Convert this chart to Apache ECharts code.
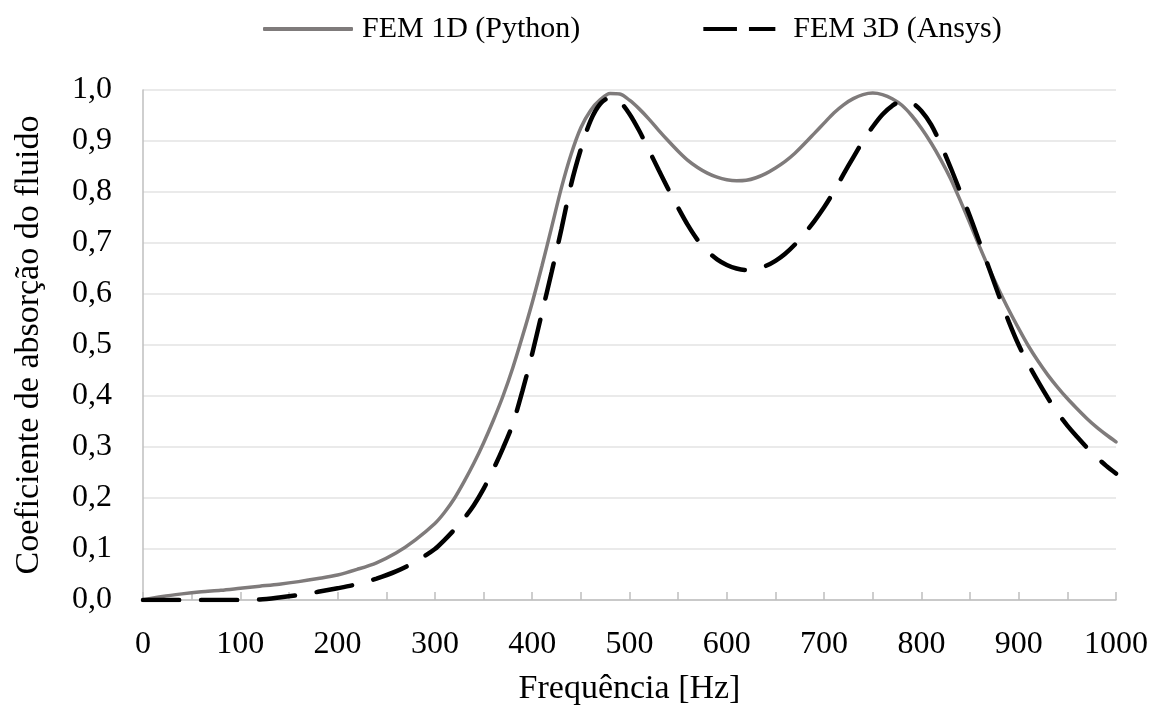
<!DOCTYPE html>
<html>
<head>
<meta charset="utf-8">
<script src="https://cdn.jsdelivr.net/npm/echarts@6/dist/echarts.min.js"></script>
<style>
  html, body { margin: 0; padding: 0; background: #ffffff; }
  #chart { width: 1157px; height: 711px; }
</style>
</head>
<body>
<div id="chart"></div>
<script>
// Frequency samples [Hz]
const freq = [0, 20, 40, 60, 80, 100, 120, 140, 160, 180, 200, 220, 240, 260, 280,
  300, 310, 320, 330, 340, 350, 360, 370, 380, 390, 400, 410, 420, 430, 440, 450, 460, 470, 480, 490,
  500, 510, 520, 530, 540, 550, 560, 570, 580, 590, 600, 610, 620, 630, 640, 650, 660, 670, 680, 690,
  700, 710, 720, 730, 740, 750, 760, 770, 780, 790, 800, 810, 820, 830, 840, 850, 860, 870, 880, 890,
  900, 910, 920, 930, 940, 950, 960, 970, 980, 990, 1000];

// Absorption coefficient, 1D finite-element model (Python)
const fem1d = [0.000, 0.007, 0.012, 0.016, 0.019, 0.023, 0.027, 0.031, 0.036, 0.042, 0.049, 0.060, 0.073, 0.092, 0.118,
  0.150, 0.172, 0.199, 0.232, 0.268, 0.308, 0.352, 0.400, 0.455, 0.517, 0.583, 0.655, 0.731, 0.808, 0.874, 0.926, 0.960, 0.981, 0.993, 0.992,
  0.980, 0.963, 0.943, 0.921, 0.900, 0.880, 0.862, 0.848, 0.837, 0.829, 0.824, 0.822, 0.823, 0.828, 0.836, 0.847, 0.860, 0.876, 0.895, 0.915,
  0.935, 0.955, 0.971, 0.983, 0.991, 0.994, 0.991, 0.983, 0.970, 0.950, 0.925, 0.896, 0.863, 0.826, 0.783, 0.738, 0.692, 0.648, 0.607, 0.568,
  0.532, 0.498, 0.468, 0.441, 0.417, 0.395, 0.375, 0.356, 0.339, 0.324, 0.310];

// Absorption coefficient, 3D finite-element model (Ansys)
const fem3d = [0.000, 0.000, 0.000, 0.000, 0.000, 0.000, 0.001, 0.005, 0.010, 0.016, 0.023, 0.031, 0.042, 0.056, 0.075,
  0.100, 0.118, 0.138, 0.160, 0.186, 0.218, 0.256, 0.298, 0.345, 0.410, 0.483, 0.563, 0.643, 0.727, 0.815, 0.884, 0.940, 0.973, 0.985, 0.977,
  0.953, 0.920, 0.882, 0.843, 0.805, 0.769, 0.735, 0.706, 0.684, 0.668, 0.657, 0.650, 0.647, 0.649, 0.655, 0.665, 0.679, 0.697, 0.719, 0.743,
  0.770, 0.801, 0.835, 0.868, 0.900, 0.928, 0.952, 0.969, 0.978, 0.975, 0.959, 0.932, 0.893, 0.848, 0.800, 0.752, 0.700, 0.648, 0.595, 0.545,
  0.500, 0.462, 0.428, 0.396, 0.367, 0.342, 0.320, 0.299, 0.280, 0.263, 0.248];

const seriesNames = ['FEM 1D (Python)', 'FEM 3D (Ansys)'];
const xTitle = 'Frequência [Hz]';
const yTitle = 'Coeficiente de absorção do fluido';

const FONT = '"Liberation Serif", "DejaVu Serif", serif';
const GREY = '#7f7b7b';
const pair = (ys) => freq.map((f, i) => [f, ys[i]]);

const chart = echarts.init(document.getElementById('chart'), null, { renderer: 'canvas' });
chart.setOption({
  backgroundColor: '#ffffff',
  animation: false,
  textStyle: { fontFamily: FONT, color: '#000' },
  legend: {
    top: 9,
    left: 258,
    itemWidth: 90,
    itemHeight: 4,
    itemGap: 123,
    data: [
      { name: seriesNames[0], icon: 'roundRect' },
      { name: seriesNames[1], icon: 'path://M0,0H42V5H0Z M57,0H90V5H57Z' }
    ],
    textStyle: { fontFamily: FONT, fontSize: 30, color: '#000', padding: [0, 0, 0, 4] }
  },
  grid: { left: 143, right: 41, top: 90, bottom: 109, containLabel: false },
  xAxis: {
    type: 'value',
    min: 0, max: 1000, interval: 100,
    name: xTitle,
    nameLocation: 'middle',
    nameGap: 72,
    nameTextStyle: { fontFamily: FONT, fontSize: 34, color: '#000' },
    axisLine: { show: true, lineStyle: { color: '#bfbfbf', width: 1.5 } },
    axisTick: { show: true, inside: true, length: 8, lineStyle: { color: '#bfbfbf', width: 1.5 } },
    minorTick: { show: true, splitNumber: 2, length: 8, lineStyle: { color: '#bfbfbf', width: 1.5 } },
    splitLine: { show: false },
    axisLabel: {
      fontFamily: FONT, fontSize: 32, color: '#000', margin: 29,
      formatter: (v) => String(v)
    }
  },
  yAxis: {
    type: 'value',
    min: 0, max: 1, interval: 0.1,
    name: yTitle,
    nameLocation: 'middle',
    nameGap: 97,
    nameRotate: 90,
    nameTextStyle: { fontFamily: FONT, fontSize: 34, color: '#000' },
    axisLine: { show: true, lineStyle: { color: '#bfbfbf', width: 1.5 } },
    axisTick: { show: false },
    splitLine: { show: true, lineStyle: { color: '#e3e3e3', width: 1.5 } },
    axisLabel: {
      fontFamily: FONT, fontSize: 32, color: '#000', margin: 31,
      formatter: (v) => v.toFixed(1).replace('.', ',')
    }
  },
  series: [
    {
      name: seriesNames[0],
      type: 'line',
      data: pair(fem1d),
      smooth: 0.3,
      showSymbol: false,
      symbol: 'none',
      lineStyle: { color: GREY, width: 3.5, cap: 'round' },
      itemStyle: { color: GREY },
      z: 3
    },
    {
      name: seriesNames[1],
      type: 'line',
      data: pair(fem3d),
      smooth: 0.3,
      showSymbol: false,
      symbol: 'none',
      lineStyle: { color: '#000000', width: 4.5, type: [36, 22], cap: 'round' },
      itemStyle: { color: '#000000' },
      z: 4
    }
  ]
});
</script>
</body>
</html>
